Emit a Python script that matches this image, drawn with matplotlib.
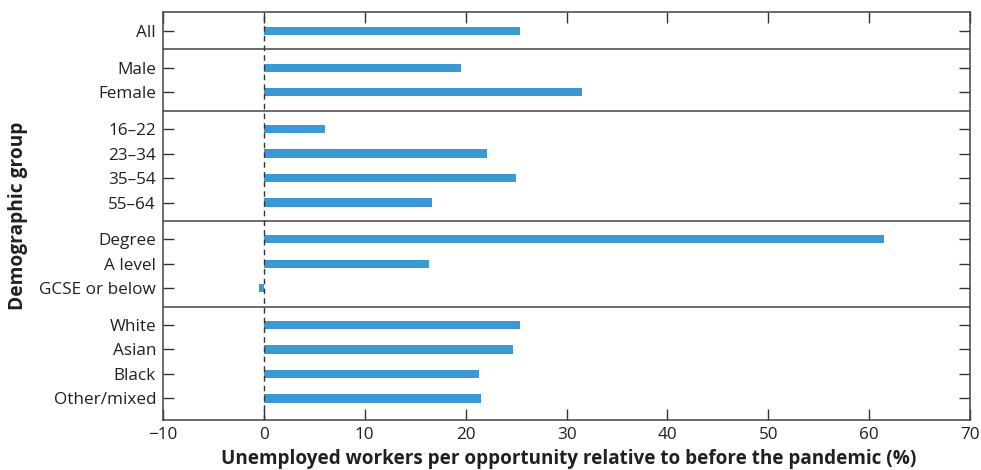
import matplotlib
matplotlib.use("Agg")
import matplotlib.pyplot as plt

categories = ["All", "Male", "Female", "16–22", "23–34", "35–54", "55–64",
              "Degree", "A level", "GCSE or below", "White", "Asian", "Black", "Other/mixed"]
values = [25.4, 19.5, 31.5, 6.1, 22.1, 25.0, 16.7, 61.5, 16.4, -0.5, 25.4, 24.7, 21.3, 21.5]
group_sizes = [1, 2, 4, 3, 4]
xticks = [-10, 0, 10, 20, 30, 40, 50, 60, 70]

plt.rcParams['font.family'] = ['Open Sans', 'DejaVu Sans']

# positions: 1 unit per row, extra 0.5 gap between groups
positions = []
seps = []
y = 0.0
for gi, n in enumerate(group_sizes):
    if gi > 0:
        seps.append(y - 0.25)
        y += 0.5
    for _ in range(n):
        positions.append(y)
        y += 1.0

R = 970
fig = plt.figure(figsize=(9.81, 4.70), dpi=100)
ax = fig.add_axes([163/981, 1 - 420/470, (R-163)/981, (420-12)/470])

ax.barh(positions, values, height=0.34, color="#3a99d3", zorder=2)
ax.axvline(0, color="#333333", linestyle=(0, (4, 3)), linewidth=1.0, zorder=3)
for s in seps:
    ax.axhline(s, color="#444444", linewidth=1.1, zorder=1)

ax.set_xlim(-10, 70)
ax.set_ylim(positions[-1] + 0.88, -0.78)
ax.set_yticks(positions)
ax.set_yticklabels(categories, fontsize=12.3, color="#231f20")
ax.set_xticks(xticks)
ax.set_xticklabels([("−" + str(abs(t))) if t < 0 else str(t) for t in xticks], fontsize=12.3, color="#231f20")
ax.tick_params(direction="in", length=8, width=1.0, color="#333333",
               top=True, right=True, pad=5)
for sp in ax.spines.values():
    sp.set_color("#444444")
    sp.set_linewidth(1.1)

ax.set_xlabel("Unemployed workers per opportunity relative to before the pandemic (%)",
              fontsize=13.6, fontweight="bold", color="#231f20")
ax.xaxis.set_label_coords((569 - 163) / (R - 163), -(459 - 420) / (420 - 12))
ax.set_ylabel("Demographic group", fontsize=13.8, fontweight="bold", color="#231f20")
ax.yaxis.set_label_coords(-(163 - 18) / (R - 163), (420 - 216) / (420 - 12))
ax.xaxis.label.set_va("center")
ax.yaxis.label.set_va("center")

fig.savefig("out.png", dpi=100)
